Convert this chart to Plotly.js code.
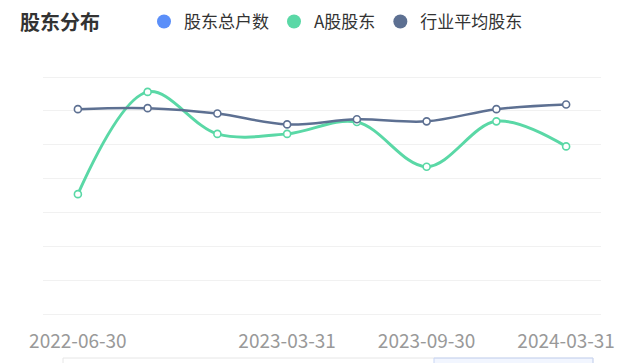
<!DOCTYPE html>
<html>
<head>
<meta charset="utf-8">
<script src="https://cdn.plot.ly/plotly-3.0.1.min.js"></script>
<style>
html,body{margin:0;padding:0;background:#fff;}
#chart{width:636px;height:363px;}
</style>
</head>
<body>
<div id="chart"></div>
<script>
// Data
const categories = ['2022-06-30','2022-09-30','2022-12-31','2023-03-31','2023-06-30','2023-09-30','2023-12-31','2024-03-31'];
const tickLabels = ['2022-06-30','2023-03-31','2023-09-30','2024-03-31'];
const totalHolders = [null, null, null, null, null, null, null, null];
const aShareHolders = [35400, 65600, 53200, 53200, 56700, 43500, 56900, 49500];
const industryAvg = [60500, 60800, 59200, 56000, 57500, 56900, 60500, 61900];

const FONT = '"Noto Sans CJK SC", "Noto Sans", sans-serif';
const C_BLUE = '#5B8FF9', C_GREEN = '#5AD8A6', C_DARK = '#5D7092';

function lineTrace(name, y, color, width) {
  return {
    type: 'scatter', mode: 'lines+markers', name: name,
    x: categories, y: y, showlegend: false, legendgroup: name,
    line: {color: color, width: width, shape: 'spline', smoothing: 1},
    marker: {size: 7, color: '#fff', line: {color: color, width: 1.6}},
    hoverinfo: 'x+y+name'
  };
}
function legendTrace(name, color) {
  return {
    type: 'scatter', mode: 'markers', name: name, legendgroup: name,
    x: [null], y: [null], showlegend: true,
    marker: {size: 14, color: color, symbol: 'circle'}
  };
}

const data = [
  lineTrace('股东总户数', totalHolders, C_BLUE, 2.5),
  lineTrace('A股股东', aShareHolders, C_GREEN, 3),
  lineTrace('行业平均股东', industryAvg, C_DARK, 2.5),
  legendTrace('股东总户数', C_BLUE),
  legendTrace('A股股东', C_GREEN),
  legendTrace('行业平均股东', C_DARK)
];

// plot area: 75 -> 316 px (241 px); gridline 70000 at 77px, 0 at 314px
const layout = {
  width: 636, height: 363,
  margin: {l: 43, r: 35, t: 75, b: 47, autoexpand: false},
  paper_bgcolor: '#fff', plot_bgcolor: '#fff',
  font: {family: FONT, color: '#333'},
  title: {
    text: '股东分布', font: {family: FONT, size: 20, color: '#333', weight: 'bold'},
    x: 20/636, xanchor: 'left', xref: 'container',
    y: 1 - 23/363, yanchor: 'middle', yref: 'container'
  },
  showlegend: true,
  legend: {
    orientation: 'h', x: (144-43)/558, xanchor: 'left', y: (316-22)/241, yanchor: 'middle',
    font: {family: FONT, size: 17, color: '#333'},
    bgcolor: 'rgba(0,0,0,0)', itemwidth: 30, traceorder: 'normal'
  },
  xaxis: {
    type: 'category', categoryorder: 'array', categoryarray: categories,
    range: [-0.5, 7.5], tickmode: 'array', tickvals: tickLabels, ticktext: tickLabels,
    showgrid: false, showline: false, zeroline: false, ticks: '',
    ticklabelstandoff: 12,
    tickfont: {family: FONT, size: 19, color: '#999'}, fixedrange: true
  },
  yaxis: {
    range: [-591, 70591], dtick: 10000, tick0: 0,
    showgrid: true, gridcolor: '#f1f1f1', gridwidth: 1,
    zeroline: false, showline: false, showticklabels: false, ticks: '', fixedrange: true
  },
  shapes: [
    {type: 'rect', xref: 'paper', yref: 'paper', x0: (63-43)/558, x1: (593-43)/558,
     y0: (316-372)/241, y1: (316-358)/241, line: {color: '#e6e6e6', width: 1}, fillcolor: 'rgba(0,0,0,0)', layer: 'above'},
    {type: 'rect', xref: 'paper', yref: 'paper', x0: (434-43)/558, x1: (593-43)/558,
     y0: (316-372)/241, y1: (316-358)/241, line: {color: '#c9d6f5', width: 1}, fillcolor: 'rgba(91,143,249,0.08)', layer: 'above'}
  ]
};

Plotly.newPlot('chart', data, layout, {displayModeBar: false, responsive: false});
</script>
</body>
</html>
